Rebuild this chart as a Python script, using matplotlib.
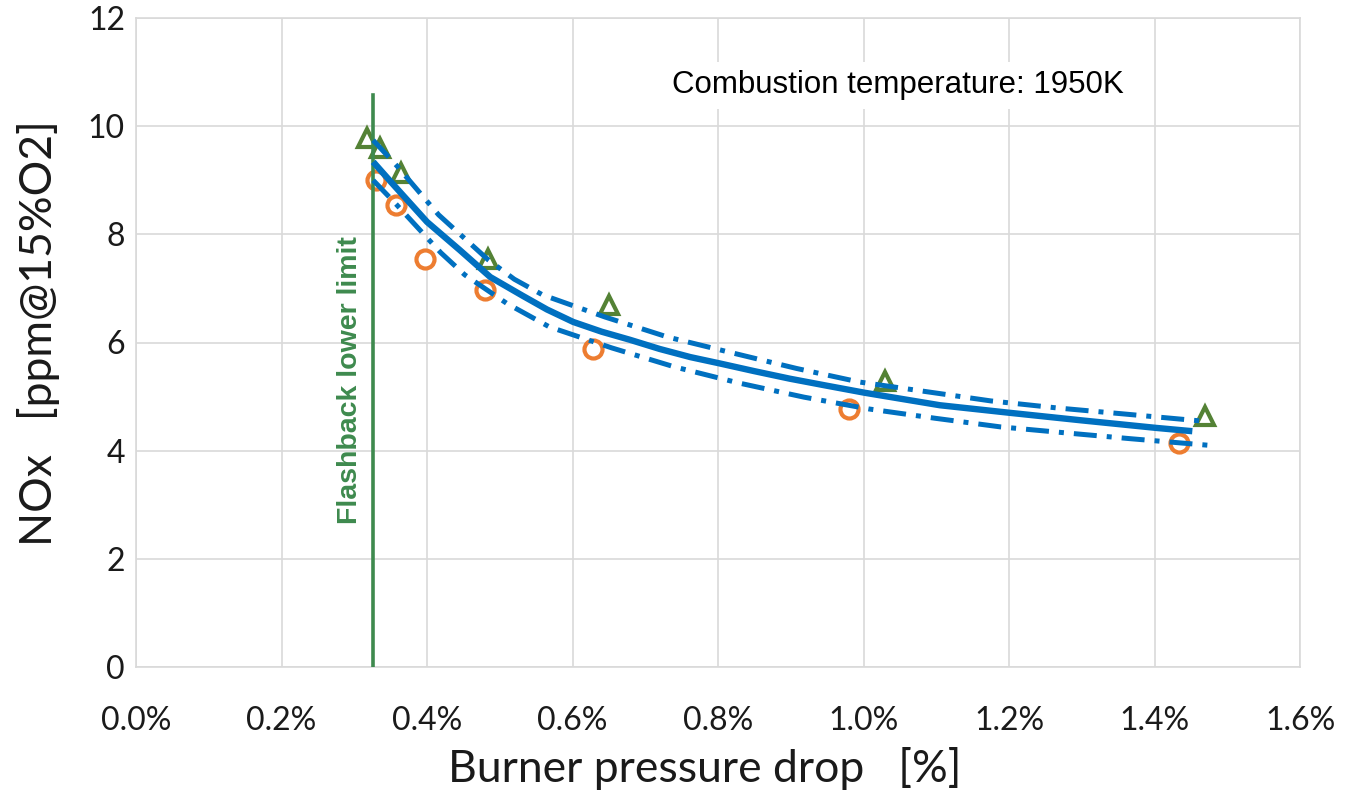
import matplotlib
matplotlib.use("Agg")
import matplotlib.pyplot as plt
from matplotlib.ticker import FuncFormatter

# ---- data (x in %, y in ppm) ----
circle_x = [0.330, 0.357, 0.397, 0.480, 0.628, 0.980, 1.434]
circle_y = [9.00, 8.54, 7.54, 6.97, 5.88, 4.77, 4.14]

tri_x = [0.318, 0.335, 0.364, 0.484, 0.650, 1.030, 1.470]
tri_y = [9.78, 9.60, 9.13, 7.54, 6.69, 5.29, 4.64]

fit_x = [0.326, 0.353, 0.400, 0.445, 0.487, 0.532, 0.565, 0.601, 0.640, 0.679, 0.720, 0.762, 0.800,
         0.850, 0.899, 0.950, 1.002, 1.105, 1.201, 1.300, 1.403, 1.452]
fit_y = [9.34, 8.93, 8.23, 7.71, 7.21, 6.86, 6.61, 6.38, 6.20, 6.05, 5.88, 5.73, 5.62,
         5.47, 5.33, 5.20, 5.07, 4.84, 4.70, 4.56, 4.42, 4.36]

upper_x = [0.326, 0.359, 0.416, 0.484, 0.520, 0.559, 0.645, 0.731, 0.819, 0.908,
           0.994, 1.087, 1.175, 1.266, 1.357, 1.463]
upper_y = [9.74, 9.26, 8.36, 7.53, 7.17, 6.88, 6.47, 6.10, 5.81, 5.52,
           5.27, 5.09, 4.92, 4.79, 4.68, 4.55]

lower_x = [0.326, 0.356, 0.419, 0.452, 0.510, 0.568, 0.654, 0.740, 0.829, 0.918,
           1.008, 1.098, 1.188, 1.277, 1.368, 1.474]
lower_y = [9.00, 8.58, 7.66, 7.25, 6.72, 6.29, 5.90, 5.55, 5.25, 4.99,
           4.77, 4.60, 4.44, 4.33, 4.22, 4.10]

flashback_x = 0.326
flashback_top = 10.58

x_ticks = [0.0, 0.2, 0.4, 0.6, 0.8, 1.0, 1.2, 1.4, 1.6]
y_ticks = [0, 2, 4, 6, 8, 10, 12]

blue = "#0070C0"
orange = "#ED7D31"
green_m = "#548235"
green_l = "#3E8A4E"

fig = plt.figure(figsize=(13.66, 7.96), dpi=100)
ax = fig.add_axes([136/1366, 1 - 667/796, (1300-136)/1366, (667-18)/796])

ax.set_xlim(0, 1.6)
ax.set_ylim(0, 12)
ax.set_xticks(x_ticks)
ax.set_yticks(y_ticks)
ax.xaxis.set_major_formatter(FuncFormatter(lambda v, p: f"{v:.1f}%"))
ax.grid(True, color="#D9D9D9", linewidth=1.2, zorder=0)
ax.set_axisbelow(True)
for s in ax.spines.values():
    s.set_color("#D9D9D9")
    s.set_linewidth(1.2)
ax.tick_params(length=0)
ax.tick_params(axis="x", pad=28, labelsize=23)
ax.tick_params(axis="y", pad=8, labelsize=23)
for lab in ax.get_xticklabels() + ax.get_yticklabels():
    lab.set_family(["Lato", "DejaVu Sans"])
    lab.set_color("#1a1a1a")

ax.plot(circle_x, circle_y, linestyle="none", marker="o", markersize=13,
        markerfacecolor="white", markeredgecolor=orange, markeredgewidth=3.0, zorder=3)
ax.plot(tri_x, tri_y, linestyle="none", marker="^", markersize=13.5,
        markerfacecolor="white", markeredgecolor=green_m, markeredgewidth=3.0, zorder=3)

ax.plot([flashback_x, flashback_x], [0, flashback_top], color=green_l, linewidth=2.6, zorder=4)

dd = (4.6, 2.0, 1.0, 2.0)
ax.plot(upper_x, upper_y, color=blue, linewidth=3.6, dashes=dd, dash_capstyle="butt", zorder=5)
ax.plot(lower_x, lower_y, color=blue, linewidth=3.6, dashes=dd, dash_capstyle="butt", zorder=5)
ax.plot(fit_x, fit_y, color=blue, linewidth=4.6, solid_capstyle="butt",
        solid_joinstyle="round", zorder=6)

ax.text(0.294, 5.31, "Flashback lower limit", rotation=90, ha="center", va="center",
        color=green_l, fontsize=20.5, fontweight="bold", family=["Liberation Sans", "DejaVu Sans"], zorder=7)

ax.text(1.047, 10.76, "Combustion temperature: 1950K", ha="center", va="center",
        fontsize=22.5, family=["Liberation Sans", "DejaVu Sans"], color="black",
        bbox=dict(facecolor="white", edgecolor="none", pad=6), zorder=7)

ax.set_xlabel("Burner pressure drop   [%]", fontsize=32, family=["Lato", "DejaVu Sans"],
              color="#1a1a1a", labelpad=8)
ax.set_ylabel("NOx   [ppm@15%O2]", fontsize=32, family=["Lato", "DejaVu Sans"],
              color="#1a1a1a", labelpad=20)
ax.xaxis.label.set_x((705 - 136) / 1164)
ax.yaxis.label.set_y((667 - 333) / 649)

fig.savefig("out.png", dpi=100)
